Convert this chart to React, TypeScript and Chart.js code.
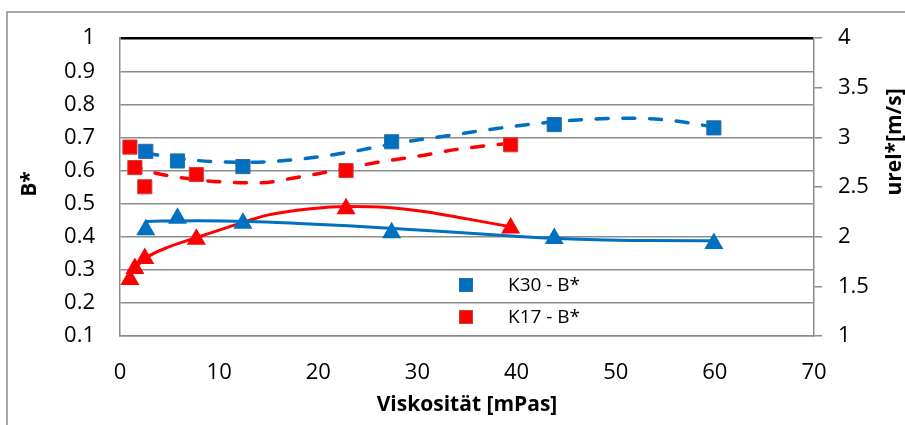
import { useEffect, useRef } from 'react';
import { Chart, registerables } from 'chart.js';

Chart.register(...registerables);

// ---- data ----
const k30X = [2.6, 5.8, 12.4, 27.4, 43.8, 59.9];
const k30B = [0.658, 0.629, 0.612, 0.687, 0.739, 0.729];
const k30U = [2.071, 2.185, 2.136, 2.039, 1.983, 1.932];

const k17X = [1.0, 1.5, 2.5, 7.7, 22.8, 39.4];
const k17B = [0.671, 0.609, 0.551, 0.588, 0.6, 0.678];
const k17U = [1.57, 1.68, 1.78, 1.974, 2.282, 2.088];

// trend curves
const k30BTrendX = [2.6, 8, 13, 18, 23, 28, 33, 38, 43, 48, 52, 56, 60];
const k30BTrend = [0.652, 0.63, 0.625, 0.634, 0.655, 0.683, 0.705, 0.727, 0.745, 0.756, 0.758, 0.75, 0.731];
const k17BTrendX = [1, 3, 6, 10, 14, 18, 22, 26, 30, 34, 39.4];
const k17BTrend = [0.62, 0.597, 0.579, 0.566, 0.563, 0.58, 0.602, 0.625, 0.643, 0.664, 0.683];
const k30UTrendX = [2.6, 8, 13, 18, 23, 28, 33, 38, 43, 48, 53, 60];
const k30UTrend = [2.154, 2.162, 2.154, 2.134, 2.11, 2.081, 2.049, 2.018, 1.988, 1.969, 1.961, 1.959];
const k17UTrendX = [1, 2.5, 5, 8, 11, 13, 15, 19, 23, 27, 31, 35, 39.4];
const k17UTrend = [1.633, 1.779, 1.9, 2.0, 2.1, 2.165, 2.22, 2.28, 2.305, 2.295, 2.25, 2.18, 2.1];

const xTicks = [0, 10, 20, 30, 40, 50, 60, 70];
const leftTicks = [0.1, 0.2, 0.3, 0.4, 0.5, 0.6, 0.7, 0.8, 0.9, 1];
const rightTicks = [1, 1.5, 2, 2.5, 3, 3.5, 4];

const legendLabels = ['K30 - B*', 'K17 - B*'];
const xTitle = 'Viskosität [mPas]';
const yTitle = 'B*';
const y1Title = 'urel*[m/s]';

const BLUE = '#0070C0';
const RED = '#FF0000';
const FONT = "'Open Sans', 'Liberation Sans', sans-serif";

const pts = (xs: number[], ys: number[]) => xs.map((x, i) => ({ x, y: ys[i] }));

export default function App() {
  const ref = useRef<HTMLCanvasElement | null>(null);

  useEffect(() => {
    if (!ref.current) return;

    const decor = {
      id: 'decor',
      afterDraw(chart: any) {
        const ctx = chart.ctx as CanvasRenderingContext2D;
        ctx.save();
        // outer frame
        ctx.strokeStyle = '#8c8c8c';
        ctx.lineWidth = 1.5;
        ctx.beginPath();
        ctx.moveTo(7, 425);
        ctx.lineTo(7, 12);
        ctx.lineTo(905, 12);
        ctx.stroke();

        // titles
        ctx.fillStyle = '#000';
        ctx.font = `bold 21px ${FONT}`;
        ctx.textAlign = 'center';
        ctx.textBaseline = 'middle';
        const ca = chart.chartArea;
        ctx.fillText(xTitle, (ca.left + ca.right) / 2, 405);
        ctx.save();
        ctx.translate(30, 184);
        ctx.rotate(-Math.PI / 2);
        ctx.fillText(yTitle, 0, 0);
        ctx.restore();
        ctx.save();
        ctx.translate(895, 142);
        ctx.rotate(-Math.PI / 2);
        ctx.fillText(y1Title, 0, 0);
        ctx.restore();

        // legend
        const ds = chart.data.datasets;
        const rows = [285, 317];
        ctx.font = `19px ${FONT}`;
        ctx.textAlign = 'left';
        legendLabels.forEach((lab, i) => {
          const y = rows[i];
          ctx.fillStyle = ds[i].backgroundColor;
          ctx.fillRect(459, y - 7, 14, 14);
          ctx.strokeStyle = ds[i].borderColor;
          ctx.lineWidth = 1;
          ctx.strokeRect(459.5, y - 6.5, 13, 13);
          ctx.fillStyle = '#000';
          ctx.fillText(lab, 508, y + 1);
        });
        ctx.restore();
      },
    };

    const tickFont = { family: FONT, size: 22 };

    const chart = new Chart(ref.current, {
      type: 'scatter',
      data: {
        datasets: [
          {
            label: legendLabels[0],
            data: pts(k30X, k30B),
            yAxisID: 'y',
            pointStyle: 'rect',
            pointRadius: 10,
            backgroundColor: BLUE,
            borderColor: '#2f6aa6',
            borderWidth: 1,
            showLine: false,
          },
          {
            label: legendLabels[1],
            data: pts(k17X, k17B),
            yAxisID: 'y',
            pointStyle: 'rect',
            pointRadius: 10,
            backgroundColor: RED,
            borderColor: '#c84040',
            borderWidth: 1,
            showLine: false,
          },
          {
            label: 'K30 - urel*',
            data: pts(k30X, k30U),
            yAxisID: 'y1',
            pointStyle: 'triangle',
            pointRadius: 11,
            backgroundColor: BLUE,
            borderColor: BLUE,
            borderWidth: 0,
            showLine: false,
          },
          {
            label: 'K17 - urel*',
            data: pts(k17X, k17U),
            yAxisID: 'y1',
            pointStyle: 'triangle',
            pointRadius: 11,
            backgroundColor: RED,
            borderColor: RED,
            borderWidth: 0,
            showLine: false,
          },
          {
            label: 'trend K30 B*',
            data: pts(k30BTrendX, k30BTrend),
            yAxisID: 'y',
            showLine: true,
            pointRadius: 0,
            borderColor: BLUE,
            borderWidth: 3.5,
            borderDash: [12, 14.7],
            borderCapStyle: 'round',
            tension: 0.4,
            cubicInterpolationMode: 'monotone',
          },
          {
            label: 'trend K17 B*',
            data: pts(k17BTrendX, k17BTrend),
            yAxisID: 'y',
            showLine: true,
            pointRadius: 0,
            borderColor: RED,
            borderWidth: 3.5,
            borderDash: [12, 14.7],
            borderCapStyle: 'round',
            tension: 0.4,
            cubicInterpolationMode: 'monotone',
          },
          {
            label: 'trend K30 urel*',
            data: pts(k30UTrendX, k30UTrend),
            yAxisID: 'y1',
            showLine: true,
            pointRadius: 0,
            borderColor: BLUE,
            borderWidth: 3,
            tension: 0.4,
            cubicInterpolationMode: 'monotone',
          },
          {
            label: 'trend K17 urel*',
            data: pts(k17UTrendX, k17UTrend),
            yAxisID: 'y1',
            showLine: true,
            pointRadius: 0,
            borderColor: RED,
            borderWidth: 3,
            tension: 0.4,
            cubicInterpolationMode: 'monotone',
          },
        ],
      },
      options: {
        animation: false,
        responsive: true,
        maintainAspectRatio: false,
        layout: { padding: { left: 0, right: 0, top: 29, bottom: 0 } },
        plugins: {
          legend: { display: false },
          tooltip: { enabled: false },
        },
        scales: {
          x: {
            type: 'linear',
            min: 0,
            max: 70,
            afterBuildTicks: (s: any) => {
              s.ticks = xTicks.map((v) => ({ value: v }));
            },
            afterFit: (s: any) => {
              s.height = 89;
            },
            grid: { display: false, drawTicks: false },
            border: { display: true, color: '#8c8c8c', width: 1.5 },
            ticks: {
              padding: 24,
              color: '#000',
              font: tickFont,
              maxRotation: 0,
              callback: (v: any) => String(v),
            },
          },
          y: {
            type: 'linear',
            position: 'left',
            min: 0.1,
            max: 1,
            afterBuildTicks: (s: any) => {
              s.ticks = leftTicks.map((v) => ({ value: v }));
            },
            afterFit: (s: any) => {
              s.width = 120;
            },
            grid: {
              color: (c: any) => (c.tick && c.tick.value === 1 ? '#000' : '#8c8c8c'),
              lineWidth: (c: any) => (c.tick && c.tick.value === 1 ? 2.5 : 1.5),
              drawTicks: false,
            },
            border: { display: true, color: '#8c8c8c', width: 1.5 },
            ticks: {
              padding: 25,
              color: '#000',
              font: tickFont,
              callback: (v: any) => String(Math.round(Number(v) * 10) / 10),
            },
          },
          y1: {
            type: 'linear',
            position: 'right',
            min: 1,
            max: 4,
            afterBuildTicks: (s: any) => {
              s.ticks = rightTicks.map((v) => ({ value: v }));
            },
            afterFit: (s: any) => {
              s.width = 91;
            },
            grid: {
              drawOnChartArea: false,
              drawTicks: true,
              tickLength: 8,
              color: '#8c8c8c',
              lineWidth: 1.5,
            },
            border: { display: true, color: '#8c8c8c', width: 1.5 },
            ticks: {
              padding: 16,
              color: '#000',
              font: tickFont,
              callback: (v: any) => String(v),
            },
          },
        },
      },
      plugins: [decor],
    } as any);

    return () => chart.destroy();
  }, []);

  return (
    <div style={{ position: 'absolute', left: 0, top: 0, width: 905, height: 425, background: '#fff' }}>
      <canvas ref={ref} />
    </div>
  );
}
